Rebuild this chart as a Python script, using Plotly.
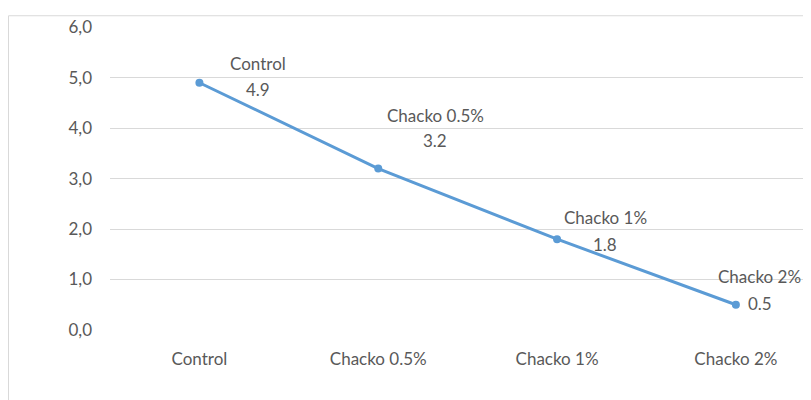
import plotly.graph_objects as go

categories = ["Control", "Chacko 0.5%", "Chacko 1%", "Chacko 2%"]
values = [4.9, 3.2, 1.8, 0.5]
y_ticks = [0, 1, 2, 3, 4, 5, 6]
y_tick_labels = ["0,0", "1,0", "2,0", "3,0", "4,0", "5,0", "6,0"]

# label offsets (pixels) per point, as in the reference
label_shift_x = [59, 57, 48, 24]
name_shift_y = [19, 53, 22, 28]
value_shift_y = [-7, 28, -5, 1]

FONT = "Lato"
TXT = "#595959"
LINE = "#5B9BD5"
FS = 17

W, H = 811, 400
ML, MR, MT, MB = 102, 8, 12, 78

fig = go.Figure()
fig.add_trace(go.Scatter(
    x=list(range(len(categories))), y=values, mode="lines+markers",
    line=dict(color=LINE, width=3), marker=dict(color=LINE, size=8),
    hoverinfo="skip", showlegend=False,
))

for i, (c, v) in enumerate(zip(categories, values)):
    fig.add_annotation(
        x=i, y=v, xref="x", yref="y", text=c, showarrow=False,
        xshift=label_shift_x[i], yshift=name_shift_y[i],
        font=dict(family=FONT, size=FS, color=TXT),
    )
    fig.add_annotation(
        x=i, y=v, xref="x", yref="y", text=f"{v}", showarrow=False,
        xshift=label_shift_x[i], yshift=value_shift_y[i],
        font=dict(family=FONT, size=FS, color=TXT),
    )

pw = W - ML - MR
ph = H - MT - MB
# chart frame (extends past the right/bottom edges like the cropped reference)
fig.add_shape(type="rect", xref="paper", yref="paper",
              x0=(0.5 - ML) / pw, x1=(W + 20 - ML) / pw,
              y0=-(H + 20 - MT - ph) / ph, y1=(H - 0.5 - MB) / ph,
              line=dict(color="#D9D9D9", width=1), fillcolor="rgba(0,0,0,0)", layer="below")

fig.update_layout(
    width=W, height=H, margin=dict(l=ML, r=MR, t=MT, b=MB),
    paper_bgcolor="white", plot_bgcolor="white",
    font=dict(family=FONT, size=FS, color=TXT),
    xaxis=dict(range=[-0.5, 3.42], tickmode="array", tickvals=list(range(len(categories))),
               ticktext=categories, showgrid=False, zeroline=False, showline=False,
               ticks="", ticklabelstandoff=17, tickfont=dict(family=FONT, size=FS, color=TXT)),
    yaxis=dict(range=[0, 6.005], tickmode="array", tickvals=y_ticks, ticktext=y_tick_labels,
               showgrid=True, gridcolor="#D9D9D9", gridwidth=1, zeroline=False,
               showline=False, ticks="", ticklabelstandoff=17,
               tickfont=dict(family=FONT, size=FS, color=TXT)),
)

fig.write_html("out.html")
